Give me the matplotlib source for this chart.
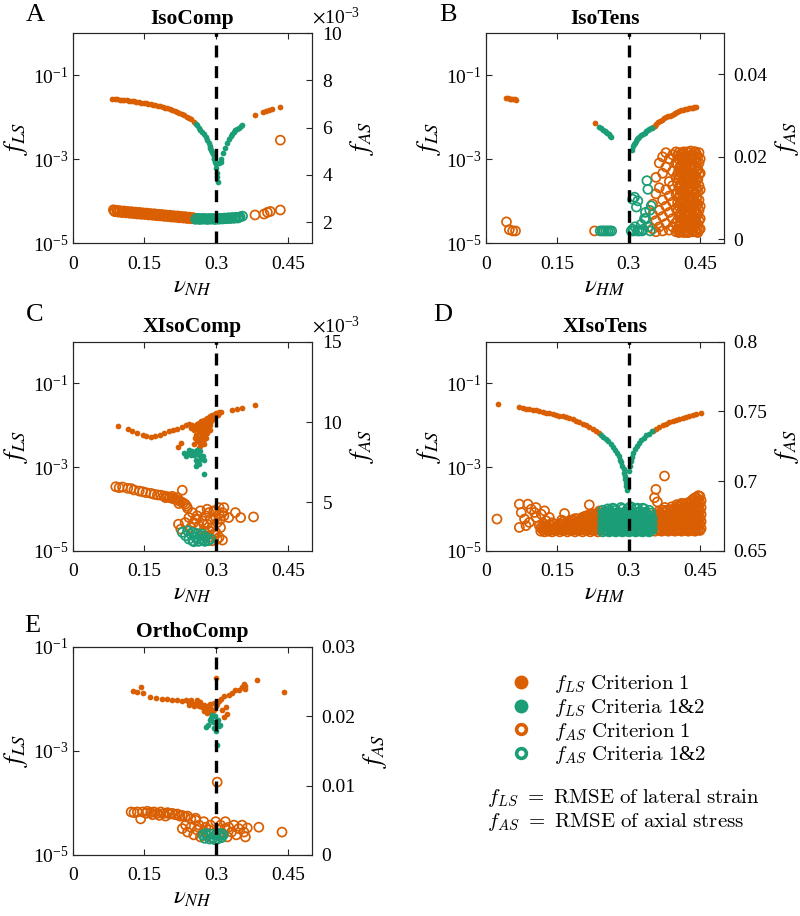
import numpy as np
import matplotlib
matplotlib.use('Agg')
import matplotlib.pyplot as plt
from matplotlib.lines import Line2D
from matplotlib.font_manager import FontProperties
from matplotlib.ticker import (FixedLocator, FuncFormatter, LogFormatterSciNotation,
                               NullLocator, ScalarFormatter)

plt.rcParams.update({'font.family': 'Liberation Serif', 'mathtext.fontset': 'stix',
                     'axes.linewidth': 0.8})

ORANGE = '#D95F02'
GREEN = '#1B9E77'
AXC = '#262626'

# ---------- A: IsoComp (f_LS left/log, f_AS right in 1e-3) ----------
a_ls1 = [(0.083, 0.0277), (0.088, 0.0272), (0.093, 0.0268), (0.098, 0.0263), (0.103, 0.0259),
         (0.108, 0.0255), (0.113, 0.0251), (0.118, 0.0247), (0.123, 0.0242), (0.128, 0.0238),
         (0.133, 0.0233), (0.138, 0.0229), (0.143, 0.0224), (0.148, 0.0219), (0.153, 0.0214),
         (0.158, 0.0209), (0.163, 0.0203), (0.168, 0.0198), (0.173, 0.0193), (0.178, 0.0187),
         (0.183, 0.0181), (0.188, 0.0175), (0.193, 0.0168), (0.198, 0.0162), (0.203, 0.0155),
         (0.208, 0.0148), (0.213, 0.0141), (0.218, 0.0134), (0.223, 0.0127), (0.228, 0.0119),
         (0.233, 0.0111), (0.238, 0.0103), (0.243, 0.0096), (0.248, 0.0089), (0.253, 0.0079),
         (0.381, 0.0112), (0.398, 0.0134), (0.405, 0.0141), (0.411, 0.0150), (0.416, 0.0155),
         (0.434, 0.0177)]
a_ls2 = [(0.257, 0.0071), (0.260, 0.0064), (0.264, 0.0057), (0.267, 0.0051), (0.271, 0.0045),
         (0.274, 0.0039), (0.278, 0.0034), (0.281, 0.0029), (0.284, 0.0025), (0.286, 0.0021),
         (0.288, 0.0019), (0.290, 0.0017), (0.292, 0.0015), (0.293, 0.0013), (0.295, 0.0011),
         (0.296, 0.0010), (0.297, 0.00088), (0.299, 0.00076), (0.300, 0.00063), (0.301, 0.00048),
         (0.302, 0.00037), (0.303, 0.00028), (0.306, 0.00080), (0.309, 0.00088), (0.310, 0.00102),
         (0.314, 0.00143), (0.318, 0.00188), (0.322, 0.00249), (0.326, 0.00308), (0.330, 0.0035),
         (0.333, 0.0039), (0.337, 0.0044), (0.340, 0.0049), (0.344, 0.0053), (0.347, 0.0057),
         (0.351, 0.0061), (0.354, 0.0064)]
a_as1 = [(0.085, 2.52), (0.088, 2.44), (0.092, 2.50), (0.095, 2.42), (0.099, 2.48), (0.103, 2.40),
         (0.107, 2.47), (0.111, 2.39), (0.115, 2.45), (0.119, 2.37), (0.123, 2.44), (0.127, 2.36),
         (0.131, 2.42), (0.135, 2.34), (0.139, 2.41), (0.143, 2.33), (0.147, 2.39), (0.151, 2.32),
         (0.155, 2.38), (0.159, 2.30), (0.163, 2.36), (0.167, 2.29), (0.171, 2.35), (0.175, 2.27),
         (0.179, 2.33), (0.183, 2.26), (0.187, 2.32), (0.191, 2.24), (0.195, 2.30), (0.199, 2.23),
         (0.203, 2.29), (0.207, 2.21), (0.211, 2.27), (0.215, 2.20), (0.219, 2.26), (0.223, 2.18),
         (0.227, 2.24), (0.231, 2.17), (0.235, 2.23), (0.239, 2.15), (0.243, 2.21), (0.247, 2.14),
         (0.251, 2.19), (0.255, 2.13),
         (0.087, 2.47), (0.095, 2.46), (0.103, 2.44), (0.111, 2.43), (0.119, 2.41), (0.127, 2.40),
         (0.135, 2.38), (0.143, 2.37), (0.151, 2.35), (0.159, 2.34), (0.167, 2.32), (0.175, 2.31),
         (0.183, 2.29), (0.191, 2.28), (0.199, 2.26), (0.207, 2.25), (0.215, 2.23), (0.223, 2.22),
         (0.231, 2.20), (0.239, 2.19), (0.247, 2.17), (0.253, 2.16),
         (0.381, 2.30), (0.400, 2.34), (0.407, 2.41), (0.413, 2.45), (0.434, 2.51), (0.434, 5.47)]
a_as2 = [(0.257, 2.12), (0.261, 2.16), (0.265, 2.11), (0.269, 2.15), (0.273, 2.12), (0.277, 2.14),
         (0.281, 2.11), (0.285, 2.15), (0.289, 2.12), (0.293, 2.14), (0.297, 2.11), (0.301, 2.15),
         (0.305, 2.12), (0.309, 2.16), (0.313, 2.13), (0.317, 2.17), (0.321, 2.14), (0.325, 2.18),
         (0.329, 2.15), (0.333, 2.19), (0.337, 2.16), (0.341, 2.20), (0.345, 2.17), (0.350, 2.22),
         (0.355, 2.25),
         (0.259, 2.14), (0.267, 2.13), (0.275, 2.15), (0.283, 2.13), (0.291, 2.15), (0.299, 2.13),
         (0.307, 2.14), (0.315, 2.15), (0.323, 2.16), (0.331, 2.17), (0.339, 2.18), (0.347, 2.20)]

# ---------- B: IsoTens ----------
b_ls1 = [(0.043, 0.0288), (0.047, 0.0284), (0.050, 0.0278), (0.053, 0.0275), (0.056, 0.0270),
         (0.060, 0.0265), (0.063, 0.0258), (0.229, 0.0074),
         (0.350, 0.0058), (0.354, 0.0063), (0.358, 0.0070), (0.362, 0.0076), (0.366, 0.0082),
         (0.370, 0.0088), (0.374, 0.0094), (0.378, 0.0100), (0.382, 0.0105), (0.386, 0.0110),
         (0.390, 0.0115), (0.394, 0.0121), (0.398, 0.0127), (0.402, 0.0132), (0.406, 0.0138),
         (0.410, 0.0145), (0.414, 0.0150), (0.418, 0.0155), (0.422, 0.0159), (0.426, 0.0163),
         (0.430, 0.0166), (0.434, 0.0169), (0.438, 0.0172), (0.442, 0.0175)]
b_ls2 = [(0.238, 0.0058), (0.242, 0.0055), (0.245, 0.0051), (0.249, 0.0047), (0.252, 0.0044),
         (0.255, 0.0042), (0.258, 0.0039), (0.261, 0.0035), (0.263, 0.0033),
         (0.306, 0.00166), (0.308, 0.00206), (0.310, 0.0023), (0.312, 0.00247), (0.315, 0.0027),
         (0.317, 0.00297), (0.320, 0.0032), (0.322, 0.00343), (0.326, 0.0038), (0.329, 0.00404),
         (0.333, 0.0043), (0.336, 0.00459), (0.340, 0.0050), (0.343, 0.00521), (0.346, 0.0055),
         (0.348, 0.0057)]
b_as1 = [(0.043, 0.0042), (0.049, 0.0023), (0.056, 0.0020), (0.062, 0.0020), (0.228, 0.0020),
         (0.350, 0.0025), (0.350, 0.0060), (0.350, 0.0085),
         (0.357, 0.0018), (0.357, 0.0045), (0.357, 0.0110), (0.357, 0.0150),
         (0.364, 0.0030), (0.364, 0.0070), (0.364, 0.0125), (0.364, 0.0185),
         (0.371, 0.0020), (0.371, 0.0055), (0.371, 0.0095), (0.371, 0.0160), (0.371, 0.0200),
         (0.378, 0.0038), (0.378, 0.0080), (0.378, 0.0120), (0.378, 0.0175), (0.378, 0.0210),
         (0.385, 0.0022), (0.385, 0.0065), (0.385, 0.0105), (0.385, 0.0140), (0.385, 0.0195),
         (0.392, 0.0030), (0.392, 0.0050), (0.392, 0.0090), (0.392, 0.0130), (0.392, 0.0165),
         (0.392, 0.0205),
         (0.399, 0.0018), (0.399, 0.0040), (0.399, 0.0075), (0.399, 0.0110), (0.399, 0.0150),
         (0.399, 0.0185), (0.399, 0.0212),
         (0.405, 0.0016), (0.405, 0.0030), (0.405, 0.0055), (0.405, 0.0080), (0.405, 0.0100),
         (0.405, 0.0125), (0.405, 0.0145), (0.405, 0.0170), (0.405, 0.0195), (0.405, 0.0210),
         (0.410, 0.0020), (0.410, 0.0040), (0.410, 0.0065), (0.410, 0.0090), (0.410, 0.0115),
         (0.410, 0.0135), (0.410, 0.0160), (0.410, 0.0180), (0.410, 0.0205),
         (0.415, 0.0016), (0.415, 0.0030), (0.415, 0.0050), (0.415, 0.0075), (0.415, 0.0095),
         (0.415, 0.0120), (0.415, 0.0140), (0.415, 0.0165), (0.415, 0.0190), (0.415, 0.0212),
         (0.420, 0.0022), (0.420, 0.0045), (0.420, 0.0060), (0.420, 0.0085), (0.420, 0.0105),
         (0.420, 0.0130), (0.420, 0.0150), (0.420, 0.0175), (0.420, 0.0200),
         (0.425, 0.0016), (0.425, 0.0035), (0.425, 0.0055), (0.425, 0.0070), (0.425, 0.0095),
         (0.425, 0.0115), (0.425, 0.0140), (0.425, 0.0160), (0.425, 0.0185), (0.425, 0.0210),
         (0.430, 0.0025), (0.430, 0.0045), (0.430, 0.0065), (0.430, 0.0085), (0.430, 0.0105),
         (0.430, 0.0125), (0.430, 0.0150), (0.430, 0.0170), (0.430, 0.0195), (0.430, 0.0214),
         (0.435, 0.0018), (0.435, 0.0038), (0.435, 0.0058), (0.435, 0.0078), (0.435, 0.0100),
         (0.435, 0.0120), (0.435, 0.0140), (0.435, 0.0160), (0.435, 0.0180), (0.435, 0.0205),
         (0.440, 0.0022), (0.440, 0.0048), (0.440, 0.0070), (0.440, 0.0090), (0.440, 0.0110),
         (0.440, 0.0135), (0.440, 0.0155), (0.440, 0.0175), (0.440, 0.0195), (0.440, 0.0212),
         (0.445, 0.0016), (0.445, 0.0035), (0.445, 0.0060), (0.445, 0.0085), (0.445, 0.0115),
         (0.445, 0.0145), (0.445, 0.0170), (0.445, 0.0200),
         (0.450, 0.0025), (0.450, 0.0050), (0.450, 0.0080), (0.450, 0.0120), (0.450, 0.0160),
         (0.450, 0.0195),
         (0.4025, 0.0024), (0.4025, 0.0045), (0.4025, 0.0068), (0.4025, 0.0090), (0.4025, 0.0112),
         (0.4025, 0.0136), (0.4025, 0.0158), (0.4025, 0.0182), (0.4025, 0.0203),
         (0.4075, 0.0018), (0.4075, 0.0036), (0.4075, 0.0060), (0.4075, 0.0085), (0.4075, 0.0108),
         (0.4075, 0.0130), (0.4075, 0.0152), (0.4075, 0.0176), (0.4075, 0.0200),
         (0.4125, 0.0025), (0.4125, 0.0047), (0.4125, 0.0070), (0.4125, 0.0095), (0.4125, 0.0118),
         (0.4125, 0.0142), (0.4125, 0.0168), (0.4125, 0.0192), (0.4125, 0.0210),
         (0.4175, 0.0020), (0.4175, 0.0040), (0.4175, 0.0062), (0.4175, 0.0086), (0.4175, 0.0108),
         (0.4175, 0.0130), (0.4175, 0.0155), (0.4175, 0.0178), (0.4175, 0.0200),
         (0.4225, 0.0016), (0.4225, 0.0035), (0.4225, 0.0055), (0.4225, 0.0078), (0.4225, 0.0100),
         (0.4225, 0.0122), (0.4225, 0.0145), (0.4225, 0.0168), (0.4225, 0.0190), (0.4225, 0.0212),
         (0.4275, 0.0025), (0.4275, 0.0045), (0.4275, 0.0062), (0.4275, 0.0082), (0.4275, 0.0105),
         (0.4275, 0.0128), (0.4275, 0.0150), (0.4275, 0.0175), (0.4275, 0.0200),
         (0.4325, 0.0018), (0.4325, 0.0035), (0.4325, 0.0055), (0.4325, 0.0075), (0.4325, 0.0095),
         (0.4325, 0.0115), (0.4325, 0.0138), (0.4325, 0.0160), (0.4325, 0.0183), (0.4325, 0.0205),
         (0.4375, 0.0028), (0.4375, 0.0048), (0.4375, 0.0068), (0.4375, 0.0088), (0.4375, 0.0110),
         (0.4375, 0.0130), (0.4375, 0.0150), (0.4375, 0.0170), (0.4375, 0.0192), (0.4375, 0.0212),
         (0.4425, 0.0018), (0.4425, 0.0040), (0.4425, 0.0062), (0.4425, 0.0080), (0.4425, 0.0100),
         (0.4425, 0.0122), (0.4425, 0.0145), (0.4425, 0.0165), (0.4425, 0.0185), (0.4425, 0.0206),
         (0.4475, 0.0022), (0.4475, 0.0045), (0.4475, 0.0070), (0.4475, 0.0095), (0.4475, 0.0130),
         (0.4475, 0.0158), (0.4475, 0.0185), (0.4475, 0.0210)]
b_as2 = [(0.240, 0.0020), (0.244, 0.0020), (0.248, 0.0020), (0.252, 0.0020), (0.256, 0.0020),
         (0.260, 0.0020), (0.264, 0.0020),
         (0.305, 0.0020), (0.308, 0.0024), (0.310, 0.0020), (0.313, 0.0030), (0.308, 0.0097),
         (0.312, 0.0102), (0.319, 0.0093), (0.316, 0.0078), (0.322, 0.0020), (0.326, 0.0036),
         (0.330, 0.0024), (0.333, 0.0050), (0.336, 0.0049), (0.338, 0.0142), (0.340, 0.0121),
         (0.341, 0.0030), (0.344, 0.0070), (0.347, 0.0081), (0.345, 0.0020), (0.335, 0.0065),
         (0.328, 0.0020), (0.318, 0.0020)]

# ---------- C: XIsoComp (f_AS in 1e-3) ----------
c_ls1 = [(0.094, 0.0098), (0.115, 0.0082), (0.124, 0.0075), (0.135, 0.0066), (0.146, 0.0057),
         (0.154, 0.0054), (0.163, 0.0053), (0.172, 0.0055), (0.182, 0.0060), (0.191, 0.0065),
         (0.201, 0.0072), (0.210, 0.0079), (0.219, 0.0083), (0.228, 0.0090), (0.236, 0.0100),
         (0.221, 0.0030), (0.226, 0.0038),
         (0.243, 0.0108), (0.247, 0.0086), (0.250, 0.0104), (0.253, 0.0079), (0.257, 0.0095),
         (0.258, 0.0060), (0.260, 0.0042), (0.263, 0.0114), (0.264, 0.0072), (0.265, 0.0050),
         (0.267, 0.0032), (0.268, 0.0125), (0.269, 0.0087), (0.271, 0.0060), (0.272, 0.0042),
         (0.274, 0.0104), (0.275, 0.0136), (0.276, 0.0072), (0.278, 0.0050), (0.279, 0.0095),
         (0.281, 0.0150), (0.283, 0.0114), (0.285, 0.0083), (0.287, 0.0164), (0.289, 0.0125),
         (0.292, 0.0173), (0.294, 0.0145), (0.297, 0.0186), (0.300, 0.0196), (0.303, 0.0173),
         (0.306, 0.0208), (0.309, 0.0204), (0.267, 0.0038), (0.274, 0.0035), (0.264, 0.0029),
         (0.253, 0.0035), (0.262, 0.0092), (0.266, 0.0068), (0.270, 0.0110), (0.273, 0.0056),
         (0.277, 0.0118), (0.280, 0.0065), (0.284, 0.0135), (0.286, 0.0100), (0.288, 0.0078),
         (0.291, 0.0155), (0.256, 0.0050), (0.259, 0.0110), (0.268, 0.0045), (0.271, 0.0090),
         (0.282, 0.0090), (0.275, 0.0048),
         (0.333, 0.0228), (0.344, 0.0245), (0.354, 0.0259), (0.381, 0.0311)]
c_ls2 = [(0.233, 0.0022), (0.236, 0.0018), (0.240, 0.0022), (0.243, 0.0025), (0.247, 0.0020),
         (0.250, 0.0024), (0.253, 0.0019), (0.257, 0.0022), (0.260, 0.0025), (0.264, 0.0020),
         (0.267, 0.0024), (0.257, 0.0015), (0.260, 0.0013), (0.258, 0.00106), (0.264, 0.0012),
         (0.269, 0.0016), (0.274, 0.0015), (0.272, 0.0018), (0.274, 0.00069)]
c_as1 = [(0.090, 5.98), (0.097, 5.92), (0.104, 5.96), (0.115, 5.88), (0.122, 5.86), (0.128, 5.78),
         (0.139, 5.71), (0.146, 5.67), (0.153, 5.61), (0.163, 5.57), (0.170, 5.51), (0.177, 5.47),
         (0.184, 5.45), (0.191, 5.40), (0.198, 5.36), (0.203, 5.30), (0.207, 5.26), (0.212, 5.22),
         (0.217, 5.18), (0.221, 5.12), (0.226, 5.05), (0.229, 5.76), (0.231, 4.97), (0.235, 4.89),
         (0.238, 4.77), (0.240, 4.64), (0.194, 5.30), (0.208, 5.38), (0.219, 5.30), (0.222, 4.93),
         (0.221, 3.65), (0.226, 3.34), (0.235, 3.75), (0.243, 4.06), (0.247, 3.44), (0.253, 3.75),
         (0.260, 4.17), (0.264, 3.55), (0.267, 4.48), (0.271, 3.86), (0.274, 3.24), (0.278, 4.17),
         (0.281, 3.65), (0.285, 4.37), (0.288, 3.96), (0.292, 3.44), (0.295, 4.48), (0.299, 4.06),
         (0.302, 3.75), (0.306, 4.27), (0.309, 3.96), (0.313, 4.37), (0.316, 4.17), (0.295, 3.03),
         (0.302, 2.72), (0.285, 2.83), (0.292, 2.62), (0.309, 3.44), (0.313, 2.66), (0.326, 4.06),
         (0.340, 4.37), (0.351, 4.06), (0.378, 4.10), (0.250, 4.37), (0.257, 3.96), (0.274, 3.65),
         (0.281, 4.58), (0.306, 4.68), (0.299, 4.48), (0.316, 4.68), (0.286, 3.24), (0.278, 2.93),
         (0.299, 3.14), (0.306, 2.83)]
c_as2 = [(0.229, 3.14), (0.236, 2.93), (0.243, 2.72), (0.247, 3.03), (0.251, 2.62), (0.257, 2.83),
         (0.263, 2.58), (0.267, 2.93), (0.272, 2.66), (0.278, 2.83), (0.283, 2.62), (0.288, 2.72),
         (0.240, 3.24), (0.250, 3.14), (0.260, 3.07), (0.271, 3.03), (0.276, 2.58), (0.253, 2.56),
         (0.264, 2.72)]

# ---------- D: XIsoTens ----------
d_ls1 = [(0.0245, 0.0328),
         (0.070, 0.0268), (0.077, 0.0259), (0.084, 0.0250), (0.091, 0.0242), (0.098, 0.0233),
         (0.105, 0.0226), (0.112, 0.0215), (0.119, 0.0208), (0.126, 0.0200), (0.133, 0.0193),
         (0.140, 0.0186), (0.147, 0.0179), (0.154, 0.0170), (0.161, 0.0164), (0.168, 0.0156),
         (0.175, 0.0147), (0.182, 0.0139), (0.189, 0.0129), (0.196, 0.0120), (0.203, 0.0110),
         (0.210, 0.0100), (0.217, 0.0091), (0.224, 0.0082), (0.231, 0.0072), (0.238, 0.0064),
         (0.350, 0.0072), (0.357, 0.0082), (0.364, 0.0091), (0.371, 0.0100), (0.378, 0.0110),
         (0.385, 0.0118), (0.392, 0.0127), (0.399, 0.0134), (0.406, 0.0142), (0.413, 0.0150),
         (0.420, 0.0159), (0.427, 0.0168), (0.434, 0.0177), (0.441, 0.0183), (0.452, 0.0194)]
d_ls2 = [(0.242, 0.0060), (0.246, 0.0053), (0.252, 0.0047), (0.257, 0.0042), (0.263, 0.0036),
         (0.267, 0.0031), (0.272, 0.0026), (0.275, 0.0022), (0.279, 0.0018), (0.282, 0.0015),
         (0.284, 0.0013), (0.286, 0.00106), (0.289, 0.00088), (0.290, 0.00074), (0.291, 0.00062),
         (0.293, 0.00051), (0.294, 0.00042), (0.295, 0.00035), (0.296, 0.00028),
         (0.301, 0.00080), (0.303, 0.00106), (0.304, 0.00139), (0.306, 0.00176), (0.309, 0.0022),
         (0.312, 0.0027), (0.317, 0.0032), (0.321, 0.0038), (0.326, 0.0044), (0.331, 0.0050),
         (0.337, 0.0057), (0.342, 0.0063), (0.348, 0.0071)]
d_as1 = [(0.023, 0.6727), (0.070, 0.6834), (0.070, 0.6667), (0.074, 0.6774), (0.081, 0.6727),
         (0.088, 0.6834), (0.091, 0.6703), (0.095, 0.6798), (0.102, 0.6774), (0.105, 0.6810),
         (0.105, 0.6739), (0.116, 0.6762), (0.123, 0.6786), (0.126, 0.6715), (0.133, 0.6739),
         (0.165, 0.6767), (0.217, 0.6829), (0.084, 0.6680), (0.112, 0.6680),
         (0.115, 0.6640), (0.115, 0.6665), (0.123, 0.6635), (0.123, 0.6660), (0.123, 0.6690),
         (0.131, 0.6640), (0.131, 0.6670), (0.139, 0.6635), (0.139, 0.6660), (0.139, 0.6700),
         (0.147, 0.6645), (0.147, 0.6675), (0.155, 0.6635), (0.155, 0.6660), (0.155, 0.6695),
         (0.163, 0.6645), (0.163, 0.6680), (0.163, 0.6710), (0.171, 0.6635), (0.171, 0.6660),
         (0.171, 0.6700), (0.179, 0.6645), (0.179, 0.6685), (0.179, 0.6720), (0.187, 0.6635),
         (0.187, 0.6665), (0.187, 0.6700), (0.187, 0.6730), (0.195, 0.6645), (0.195, 0.6680),
         (0.195, 0.6715), (0.203, 0.6635), (0.203, 0.6665), (0.203, 0.6700), (0.203, 0.6740),
         (0.211, 0.6645), (0.211, 0.6685), (0.211, 0.6720), (0.211, 0.6750), (0.219, 0.6635),
         (0.219, 0.6665), (0.219, 0.6705), (0.219, 0.6740), (0.227, 0.6645), (0.227, 0.6680),
         (0.227, 0.6720), (0.227, 0.6760), (0.235, 0.6635), (0.235, 0.6665), (0.235, 0.6700),
         (0.235, 0.6740), (0.235, 0.6770), (0.241, 0.6650), (0.241, 0.6690), (0.241, 0.6730),
         (0.241, 0.6765),
         (0.119, 0.6650), (0.119, 0.6680), (0.127, 0.6648), (0.127, 0.6675), (0.135, 0.6650),
         (0.135, 0.6685), (0.143, 0.6648), (0.143, 0.6690), (0.151, 0.6650), (0.151, 0.6680),
         (0.159, 0.6648), (0.159, 0.6690), (0.159, 0.6720), (0.167, 0.6650), (0.167, 0.6695),
         (0.175, 0.6648), (0.175, 0.6670), (0.175, 0.6710), (0.183, 0.6650), (0.183, 0.6690),
         (0.183, 0.6720), (0.191, 0.6648), (0.191, 0.6695), (0.191, 0.6730), (0.199, 0.6650),
         (0.199, 0.6690), (0.199, 0.6725), (0.207, 0.6648), (0.207, 0.6680), (0.207, 0.6720),
         (0.207, 0.6745), (0.215, 0.6650), (0.215, 0.6690), (0.215, 0.6725), (0.215, 0.6755),
         (0.223, 0.6648), (0.223, 0.6690), (0.223, 0.6730), (0.223, 0.6765), (0.231, 0.6650),
         (0.231, 0.6685), (0.231, 0.6720), (0.231, 0.6760), (0.238, 0.6648), (0.238, 0.6680),
         (0.238, 0.6715), (0.238, 0.6750), (0.238, 0.6785),
         (0.355, 0.6640), (0.355, 0.6680), (0.355, 0.6720), (0.355, 0.6760),
         (0.362, 0.6650), (0.362, 0.6690), (0.362, 0.6730), (0.362, 0.6780),
         (0.369, 0.6640), (0.369, 0.6680), (0.369, 0.6720), (0.369, 0.6760),
         (0.376, 0.6650), (0.376, 0.6690), (0.376, 0.6730), (0.376, 0.6775), (0.376, 0.6810),
         (0.383, 0.6640), (0.383, 0.6680), (0.383, 0.6720), (0.383, 0.6760),
         (0.390, 0.6650), (0.390, 0.6690), (0.390, 0.6730), (0.390, 0.6780), (0.390, 0.6815),
         (0.397, 0.6640), (0.397, 0.6680), (0.397, 0.6720), (0.397, 0.6760), (0.397, 0.6800),
         (0.404, 0.6650), (0.404, 0.6690), (0.404, 0.6730), (0.404, 0.6770), (0.404, 0.6820),
         (0.411, 0.6640), (0.411, 0.6680), (0.411, 0.6720), (0.411, 0.6760), (0.411, 0.6800),
         (0.411, 0.6840),
         (0.418, 0.6650), (0.418, 0.6690), (0.418, 0.6730), (0.418, 0.6775), (0.418, 0.6825),
         (0.425, 0.6640), (0.425, 0.6680), (0.425, 0.6720), (0.425, 0.6760), (0.425, 0.6800),
         (0.425, 0.6845),
         (0.432, 0.6650), (0.432, 0.6690), (0.432, 0.6730), (0.432, 0.6770), (0.432, 0.6815),
         (0.432, 0.6860),
         (0.439, 0.6640), (0.439, 0.6680), (0.439, 0.6720), (0.439, 0.6760), (0.439, 0.6800),
         (0.439, 0.6845), (0.439, 0.6880),
         (0.446, 0.6650), (0.446, 0.6690), (0.446, 0.6730), (0.446, 0.6770), (0.446, 0.6815),
         (0.446, 0.6860), (0.446, 0.6895),
         (0.452, 0.6660), (0.452, 0.6710), (0.452, 0.6760), (0.452, 0.6810), (0.452, 0.6860),
         (0.3585, 0.6655), (0.3585, 0.6700), (0.3585, 0.6745),
         (0.3655, 0.6645), (0.3655, 0.6690), (0.3655, 0.6735), (0.3655, 0.6770),
         (0.3725, 0.6655), (0.3725, 0.6700), (0.3725, 0.6745), (0.3725, 0.6790),
         (0.3795, 0.6645), (0.3795, 0.6690), (0.3795, 0.6735), (0.3795, 0.6790),
         (0.3865, 0.6655), (0.3865, 0.6700), (0.3865, 0.6745), (0.3865, 0.6795),
         (0.3935, 0.6645), (0.3935, 0.6690), (0.3935, 0.6735), (0.3935, 0.6795),
         (0.4005, 0.6655), (0.4005, 0.6700), (0.4005, 0.6745), (0.4005, 0.6790), (0.4005, 0.6830),
         (0.4075, 0.6645), (0.4075, 0.6690), (0.4075, 0.6735), (0.4075, 0.6785), (0.4075, 0.6830),
         (0.4145, 0.6655), (0.4145, 0.6700), (0.4145, 0.6745), (0.4145, 0.6790), (0.4145, 0.6835),
         (0.4215, 0.6645), (0.4215, 0.6690), (0.4215, 0.6735), (0.4215, 0.6785), (0.4215, 0.6840),
         (0.4285, 0.6655), (0.4285, 0.6700), (0.4285, 0.6745), (0.4285, 0.6790), (0.4285, 0.6840),
         (0.4355, 0.6645), (0.4355, 0.6690), (0.4355, 0.6735), (0.4355, 0.6785), (0.4355, 0.6835),
         (0.4355, 0.6870),
         (0.4425, 0.6655), (0.4425, 0.6700), (0.4425, 0.6745), (0.4425, 0.6790), (0.4425, 0.6840),
         (0.4425, 0.6880),
         (0.4495, 0.6645), (0.4495, 0.6690), (0.4495, 0.6735), (0.4495, 0.6785), (0.4495, 0.6840),
         (0.4495, 0.6890),
         (0.357, 0.6940), (0.375, 0.7036), (0.354, 0.6880), (0.360, 0.6850)]
d_as2 = [(0.245, 0.6635), (0.245, 0.6670), (0.245, 0.6710), (0.245, 0.6750), (0.245, 0.6790),
         (0.252, 0.6650), (0.252, 0.6690), (0.252, 0.6730), (0.252, 0.6770),
         (0.259, 0.6635), (0.259, 0.6670), (0.259, 0.6710), (0.259, 0.6750), (0.259, 0.6790),
         (0.266, 0.6650), (0.266, 0.6690), (0.266, 0.6730), (0.266, 0.6770), (0.266, 0.6805),
         (0.273, 0.6635), (0.273, 0.6670), (0.273, 0.6710), (0.273, 0.6750), (0.273, 0.6790),
         (0.280, 0.6650), (0.280, 0.6690), (0.280, 0.6730), (0.280, 0.6770),
         (0.287, 0.6635), (0.287, 0.6670), (0.287, 0.6710), (0.287, 0.6750), (0.287, 0.6800),
         (0.294, 0.6650), (0.294, 0.6690), (0.294, 0.6730), (0.294, 0.6770),
         (0.301, 0.6635), (0.301, 0.6670), (0.301, 0.6710), (0.301, 0.6750), (0.301, 0.6810),
         (0.308, 0.6650), (0.308, 0.6690), (0.308, 0.6730), (0.308, 0.6770),
         (0.315, 0.6635), (0.315, 0.6670), (0.315, 0.6710), (0.315, 0.6750), (0.315, 0.6800),
         (0.322, 0.6650), (0.322, 0.6690), (0.322, 0.6730), (0.322, 0.6775),
         (0.329, 0.6635), (0.329, 0.6670), (0.329, 0.6710), (0.329, 0.6750), (0.329, 0.6805),
         (0.336, 0.6650), (0.336, 0.6690), (0.336, 0.6730), (0.336, 0.6770),
         (0.343, 0.6635), (0.343, 0.6670), (0.343, 0.6710), (0.343, 0.6750), (0.343, 0.6790),
         (0.349, 0.6650), (0.349, 0.6690), (0.349, 0.6730),
         (0.2485, 0.6645), (0.2485, 0.6690), (0.2485, 0.6730), (0.2485, 0.6775),
         (0.2555, 0.6640), (0.2555, 0.6680), (0.2555, 0.6720), (0.2555, 0.6760), (0.2555, 0.6800),
         (0.2625, 0.6645), (0.2625, 0.6690), (0.2625, 0.6730), (0.2625, 0.6775),
         (0.2695, 0.6640), (0.2695, 0.6680), (0.2695, 0.6720), (0.2695, 0.6760), (0.2695, 0.6800),
         (0.2765, 0.6645), (0.2765, 0.6690), (0.2765, 0.6730), (0.2765, 0.6775),
         (0.2835, 0.6640), (0.2835, 0.6680), (0.2835, 0.6720), (0.2835, 0.6760), (0.2835, 0.6810),
         (0.2905, 0.6645), (0.2905, 0.6690), (0.2905, 0.6730), (0.2905, 0.6775),
         (0.2975, 0.6640), (0.2975, 0.6680), (0.2975, 0.6720), (0.2975, 0.6760), (0.2975, 0.6800),
         (0.3045, 0.6645), (0.3045, 0.6690), (0.3045, 0.6730), (0.3045, 0.6775), (0.3045, 0.6815),
         (0.3115, 0.6640), (0.3115, 0.6680), (0.3115, 0.6720), (0.3115, 0.6760),
         (0.3185, 0.6645), (0.3185, 0.6690), (0.3185, 0.6730), (0.3185, 0.6775), (0.3185, 0.6805),
         (0.3255, 0.6640), (0.3255, 0.6680), (0.3255, 0.6720), (0.3255, 0.6760),
         (0.3325, 0.6645), (0.3325, 0.6690), (0.3325, 0.6730), (0.3325, 0.6775), (0.3325, 0.6800),
         (0.3395, 0.6640), (0.3395, 0.6680), (0.3395, 0.6720), (0.3395, 0.6760),
         (0.3465, 0.6645), (0.3465, 0.6690), (0.3465, 0.6730), (0.3465, 0.6770)]

# ---------- E: OrthoComp ----------
e_ls1 = [(0.125, 0.0143), (0.142, 0.0166), (0.135, 0.0133), (0.147, 0.0127), (0.161, 0.0108),
         (0.174, 0.0104), (0.186, 0.0101), (0.198, 0.0098), (0.208, 0.0096), (0.219, 0.0094),
         (0.229, 0.0092), (0.240, 0.0090), (0.247, 0.0093), (0.243, 0.0077), (0.250, 0.0083),
         (0.253, 0.0072), (0.258, 0.0081), (0.264, 0.0074), (0.267, 0.0086), (0.271, 0.0070),
         (0.274, 0.0077), (0.278, 0.0064), (0.281, 0.0074), (0.285, 0.0058), (0.288, 0.0067),
         (0.292, 0.0054), (0.295, 0.0062), (0.299, 0.0072), (0.300, 0.0249), (0.302, 0.0081),
         (0.306, 0.0090), (0.309, 0.0098), (0.311, 0.0062), (0.316, 0.0112), (0.316, 0.0045),
         (0.321, 0.0070), (0.326, 0.0120), (0.333, 0.0129), (0.340, 0.0145), (0.347, 0.0150),
         (0.354, 0.0168), (0.358, 0.0195), (0.361, 0.0154), (0.360, 0.0179), (0.385, 0.0232),
         (0.441, 0.0137), (0.236, 0.0096), (0.260, 0.0096), (0.274, 0.0058), (0.281, 0.0054),
         (0.288, 0.0081), (0.295, 0.0083), (0.323, 0.0050)]
e_ls2 = [(0.278, 0.0029), (0.283, 0.0032), (0.286, 0.0039), (0.290, 0.0043), (0.293, 0.0036),
         (0.297, 0.0046), (0.300, 0.0034), (0.303, 0.0039), (0.306, 0.0030), (0.308, 0.0032),
         (0.299, 0.0024), (0.295, 0.0028), (0.292, 0.0049), (0.302, 0.0013)]
e_as1 = [(0.122, 0.0062), (0.128, 0.0061), (0.135, 0.0062), (0.142, 0.0052), (0.146, 0.0062),
         (0.156, 0.0063), (0.163, 0.0061), (0.170, 0.0062), (0.177, 0.0060), (0.184, 0.0062),
         (0.191, 0.0060), (0.198, 0.0061), (0.203, 0.0059), (0.208, 0.0060), (0.214, 0.0058),
         (0.219, 0.0059), (0.224, 0.0056), (0.229, 0.0057), (0.235, 0.0055), (0.240, 0.0056),
         (0.247, 0.0052), (0.257, 0.0053), (0.181, 0.0057), (0.194, 0.0056), (0.167, 0.0058),
         (0.153, 0.0060),
         (0.229, 0.0038), (0.240, 0.0033), (0.247, 0.0040), (0.253, 0.0029), (0.260, 0.0036),
         (0.264, 0.0043), (0.267, 0.0026), (0.272, 0.0033), (0.278, 0.0040), (0.281, 0.0029),
         (0.285, 0.0036), (0.288, 0.0043), (0.292, 0.0024), (0.306, 0.0036), (0.309, 0.0043),
         (0.313, 0.0031), (0.318, 0.0038), (0.323, 0.0026), (0.326, 0.0040), (0.332, 0.0033),
         (0.337, 0.0043), (0.342, 0.0029), (0.347, 0.0038), (0.354, 0.0043), (0.358, 0.0033),
         (0.361, 0.0026), (0.365, 0.0039), (0.389, 0.0040), (0.4375, 0.0033), (0.302, 0.0105),
         (0.274, 0.0048), (0.257, 0.0050), (0.319, 0.0048), (0.299, 0.0048), (0.236, 0.0043)]
e_as2 = [(0.272, 0.0029), (0.276, 0.0024), (0.281, 0.0028), (0.286, 0.0023), (0.290, 0.0030),
         (0.294, 0.0025), (0.299, 0.0029), (0.303, 0.0023), (0.307, 0.0028), (0.311, 0.0025),
         (0.315, 0.0029), (0.278, 0.0031), (0.297, 0.0022), (0.310, 0.0031)]

x_ticks = [0, 0.15, 0.3, 0.45]
ls_ticks = [1e-5, 1e-3, 1e-1]

fig = plt.figure(figsize=(8, 9.16), dpi=100)
gfmt = FuncFormatter(lambda v, p: f'{v:g}')


def panel(rect, letter, letter_xy, title, xlabel, ls1, ls2, as1, as2,
          ls_lim, as_lim, as_ticks, as_unit=1.0, sci=False):
    ax = fig.add_axes(rect)
    ax.set_xlim(0, 0.5)
    ax.set_yscale('log')
    ax.set_ylim(*ls_lim)
    for pts, c in ((ls1, ORANGE), (ls2, GREEN)):
        x, y = np.array(pts).T
        ax.scatter(x, y, s=17, color=c, linewidths=0, zorder=3, clip_on=False)
    ax.xaxis.set_major_locator(FixedLocator(x_ticks))
    ax.xaxis.set_major_formatter(gfmt)
    ax.yaxis.set_major_locator(FixedLocator(ls_ticks))
    ax.yaxis.set_minor_locator(NullLocator())
    ax.yaxis.set_major_formatter(LogFormatterSciNotation())
    ax.tick_params(direction='in', length=4, width=0.8, color=AXC, labelsize=14)
    ax.tick_params(axis='x', top=True, pad=9)
    ax.tick_params(axis='y', pad=3)
    ax.set_xlabel(xlabel, fontsize=18, labelpad=2)
    ax.set_ylabel(r'$f_{LS}$', fontsize=19, labelpad=2)
    ax.set_title(title, fontsize=15.5, fontweight='bold', pad=7)

    ax2 = ax.twinx()
    for pts, c in ((as1, ORANGE), (as2, GREEN)):
        x, y = np.array(pts).T
        ax2.scatter(x, y * as_unit, s=42, facecolors='none', edgecolors=c,
                    linewidths=1.25, zorder=3)
    ax2.set_ylim(as_lim[0] * as_unit, as_lim[1] * as_unit)
    ax2.yaxis.set_major_locator(FixedLocator([t * as_unit for t in as_ticks]))
    if sci:
        # tick labels scaled to 1e-3; the multiplier is written above the axis
        fm = ScalarFormatter(useMathText=True)
        fm.set_powerlimits((-3, -3))
        ax2.yaxis.set_major_formatter(fm)
        ax2.yaxis.get_offset_text().set_visible(False)
        ax2.text(1.0, 1.045, r'$\times\mathdefault{10^{-3}}$', transform=ax2.transAxes,
                 ha='left', va='baseline', fontsize=14)
    else:
        ax2.yaxis.set_major_formatter(gfmt)
    ax2.tick_params(direction='in', length=4, width=0.8, color=AXC, labelsize=14, pad=7)
    ax2.set_ylabel(r'$f_{AS}$', fontsize=19, labelpad=4)
    ax2.axvline(0.3, color='k', lw=2.4, ls=(0, (3.6, 2.6)), zorder=6)
    for a in (ax, ax2):
        for s in a.spines.values():
            s.set_color(AXC)
    fig.text(letter_xy[0] / 800, 1 - letter_xy[1] / 916, letter, fontsize=19,
             ha='center', va='center')


panel([0.0909, 0.7344, 0.299, 0.2293], 'A', (35, 15), 'IsoComp', r'$\nu_{NH}$',
      a_ls1, a_ls2, a_as1, a_as2, (1e-5, 1), (1.1, 10), [2, 4, 6, 8, 10], 1e-3, True)
panel([0.6075, 0.7344, 0.2975, 0.2293], 'B', (448, 15), 'IsoTens', r'$\nu_{HM}$',
      b_ls1, b_ls2, b_as1, b_as2, (1e-5, 1), (-0.001, 0.05), [0, 0.02, 0.04])
panel([0.0909, 0.3988, 0.299, 0.2282], 'C', (35, 315), 'XIsoComp', r'$\nu_{NH}$',
      c_ls1, c_ls2, c_as1, c_as2, (1e-5, 1), (2, 15), [5, 10, 15], 1e-3, True)
panel([0.6075, 0.3988, 0.2975, 0.2282], 'D', (443, 315), 'XIsoTens', r'$\nu_{HM}$',
      d_ls1, d_ls2, d_as1, d_as2, (1e-5, 1), (0.65, 0.8), [0.65, 0.7, 0.75, 0.8])
panel([0.0909, 0.0666, 0.299, 0.2274], 'E', (32, 626), 'OrthoComp', r'$\nu_{NH}$',
      e_ls1, e_ls2, e_as1, e_as2, (1e-5, 1e-1), (0, 0.03), [0, 0.01, 0.02, 0.03])

# legend
handles = [Line2D([], [], ls='none', marker='o', color=ORANGE, markersize=9),
           Line2D([], [], ls='none', marker='o', color=GREEN, markersize=9),
           Line2D([], [], ls='none', marker='o', mfc='white', mec=ORANGE, mew=2.6, markersize=7),
           Line2D([], [], ls='none', marker='o', mfc='white', mec=GREEN, mew=2.6, markersize=7)]
labels = [r'$f_{LS}\ \mathrm{Criterion\ 1}$', r'$f_{LS}\ \mathrm{Criteria\ 1}$&$\mathrm{2}$',
          r'$f_{AS}\ \mathrm{Criterion\ 1}$', r'$f_{AS}\ \mathrm{Criteria\ 1}$&$\mathrm{2}$']
fig.legend(handles, labels, loc='upper left', bbox_to_anchor=(0.625, 1 - 665 / 916),
           frameon=False, prop=FontProperties(size=15, math_fontfamily='cm'),
           handletextpad=1.0, labelspacing=0.08, borderaxespad=0, handlelength=1.2)
fig.text(487 / 800, 1 - 798 / 916, r'$f_{LS}\ =\ \mathrm{RMSE\ of\ lateral\ strain}$',
         fontsize=15, math_fontfamily='cm', va='center')
fig.text(487 / 800, 1 - 822 / 916, r'$f_{AS}\ =\ \mathrm{RMSE\ of\ axial\ stress}$',
         fontsize=15, math_fontfamily='cm', va='center')

fig.savefig('out.png', dpi=100)
